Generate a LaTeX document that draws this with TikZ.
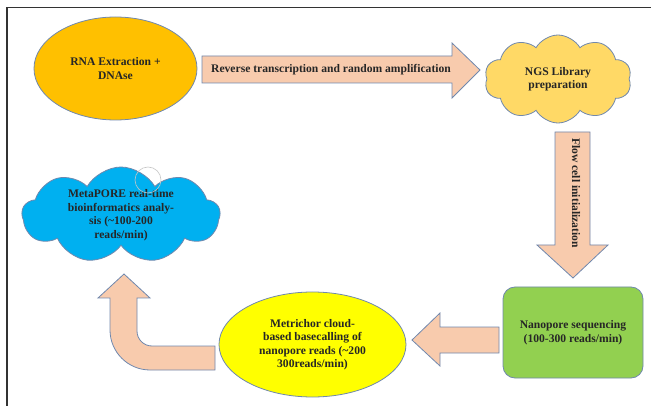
\documentclass[tikz,border=0pt]{standalone}
\usepackage{fontspec}
\setmainfont{Liberation Serif}
\usepackage{tikz}
\usetikzlibrary{shapes.geometric, shapes.symbols, calc}

\definecolor{rnaorange}{HTML}{FFC000}
\definecolor{ngsyellow}{HTML}{FFD966}
\definecolor{seqgreen}{HTML}{92D050}
\definecolor{metryellow}{HTML}{FFFF00}
\definecolor{metablue}{HTML}{00B0F0}
\definecolor{arrowfill}{HTML}{F8CBAD}
\definecolor{edgeblue}{HTML}{7088AD}

\begin{document}
\begin{tikzpicture}[
        x=1pt, y=-1pt,
        font=\fontsize{11.6}{13.5}\selectfont\bfseries,
        shp/.style={draw=edgeblue, line width=0.8pt, align=center, text=black!85, inner sep=2pt},
        oval/.style={shp, ellipse},
        puff/.style={shp, cloud, cloud puffs=10, cloud puff arc=120, aspect=1.6},
        blk/.style={draw=edgeblue, line width=0.8pt, fill=arrowfill, line join=miter},
        lbl/.style={text=black!85, inner sep=0pt}
    ]
        \useasboundingbox (0,0) rectangle (651,406);
        % --- Rahmen ---
        \draw[line width=1.2pt, black!80] (7,406) -- (7,7.5) -- (651,7.5);

        % --- Knoten ---
        \node[oval, fill=rnaorange, minimum width=163, minimum height=103] (rna) at (115.5,68.5) {RNA Extraction +\\DNAse};
        \node[puff, fill=ngsyellow, minimum width=147, minimum height=88] (ngs) at (558,79) {NGS Library\\preparation};
        \node[shp, rounded corners=12pt, fill=seqgreen, minimum width=140, minimum height=91] (nano) at (573,332.5) {Nanopore sequencing\\(100-300 reads/min)};
        \node[oval, fill=metryellow, minimum width=187, minimum height=105] (metr) at (312.5,344.5) {Metrichor cloud-\\based basecalling of\\nanopore reads (\textasciitilde200\\300reads/min)};
        \node[puff, fill=metablue, cloud puffs=9, aspect=2.1, inner xsep=-10pt, inner ysep=-8pt,
              minimum width=198, minimum height=96] (meta) at (121,215) {MetaPORE real-time\\bioinformatics analy-\\sis (\textasciitilde100-200\\reads/min)};
        \node[circle, draw=gray!45, line width=0.6pt, minimum size=26, inner sep=0pt] (ring) at (148,180) {};

        % --- Blockpfeile ---
        \draw[blk] (202,56) -- (452,56) -- (452,43) -- (480,70) -- (452,98) -- (452,83) -- (202,83) -- cycle;
        \node[lbl] (revlbl) at (331,69.5) {Reverse transcription and random amplification};

        \draw[blk] (555,132) -- (590,132) -- (590,245) -- (608,245) -- (573,278) -- (537,245) -- (555,245) -- cycle;
        \node[lbl, rotate=-90] (flowlbl) at (576,193) {Flow cell initialization};

        \draw[blk] (499,327) -- (440,327) -- (440,313) -- (412,340) -- (440,366) -- (440,353) -- (499,353) -- cycle;

        \draw[blk] (215,346) -- (152,346) .. controls (143.7,346) and (137,339.3) .. (137,331)
            -- (137,298) -- (150,298) -- (124,274) -- (98,298) -- (110,298) -- (110,330)
            .. controls (110,352) and (128,370) .. (150,370) -- (215,370) -- cycle;
    \end{tikzpicture}
\end{document}
